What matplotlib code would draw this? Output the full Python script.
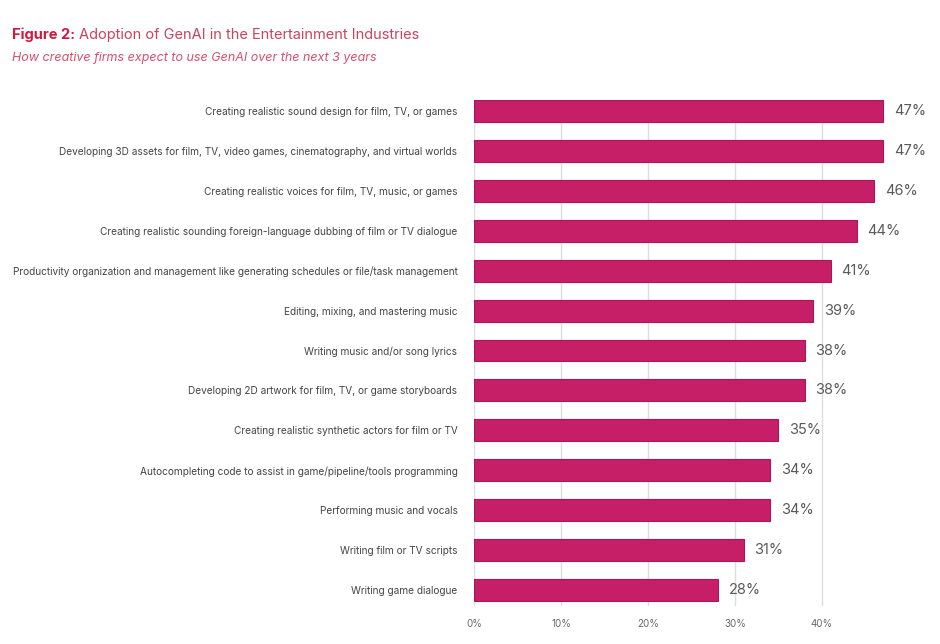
import numpy as np
import matplotlib
matplotlib.use("Agg")
import matplotlib.pyplot as plt

#========= Data ===========
categories = [
    "Creating realistic sound design for film, TV, or games",
    "Developing 3D assets for film, TV, video games, cinematography, and virtual worlds",
    "Creating realistic voices for film, TV, music, or games",
    "Creating realistic sounding foreign-language dubbing of film or TV dialogue",
    "Productivity organization and management like generating schedules or file/task management",
    "Editing, mixing, and mastering music",
    "Writing music and/or song lyrics",
    "Developing 2D artwork for film, TV, or game storyboards",
    "Creating realistic synthetic actors for film or TV",
    "Autocompleting code to assist in game/pipeline/tools programming",
    "Performing music and vocals",
    "Writing film or TV scripts",
    "Writing game dialogue",
]
values = [47, 47, 46, 44, 41, 39, 38, 38, 35, 34, 34, 31, 28]
xticks = [0, 10, 20, 30, 40]
xtick_labels = ["0%", "10%", "20%", "30%", "40%"]

#========= Style ===========
plt.rcParams['font.family'] = ['Inter', 'DejaVu Sans']
bar_color = "#C71E68"
edge_color = "#A8175A"
text_grey = "#444444"
value_grey = "#5a5a5a"

fig = plt.figure(figsize=(9.4, 6.44), dpi=100)
ax = fig.add_axes([0.5043, 0.059, 0.483, 0.786])

ypos = np.arange(len(categories))
ax.barh(ypos, values, height=0.55, color=bar_color, edgecolor=edge_color,
        linewidth=0.8, zorder=3)

for y, v in zip(ypos, values):
    ax.text(v + 1.25, y, "%d%%" % v, va="center", ha="left",
            fontsize=10.5, color=value_grey)

ax.set_yticks(ypos)
ax.set_yticklabels(categories, fontsize=7.25, color=text_grey)
ax.tick_params(axis="y", length=0, pad=12)
ax.set_xticks(xticks)
ax.set_xticklabels(xtick_labels, fontsize=7, color="#666666")
ax.tick_params(axis="x", length=0, pad=9)

ax.set_xlim(0, 52.2)
ax.set_ylim(12.4, -0.28)
ax.grid(axis="x", color="#dddddd", linewidth=1.0, zorder=0)
for s in ax.spines.values():
    s.set_visible(False)
ax.axvline(0, color="#cccccc", linewidth=1.2, zorder=1)

#========= Titles ===========
t1 = fig.text(0.013, 0.94, "Figure 2:", fontsize=10.5, fontweight="bold",
              color="#D2173F", ha="left", va="baseline")
r = fig.canvas.get_renderer()
bb = t1.get_window_extent(renderer=r)
x2 = (bb.x1 + 4) / fig.bbox.width
fig.text(x2, 0.94, "Adoption of GenAI in the Entertainment Industries",
         fontsize=10.5, color="#C9445E", ha="left", va="baseline")
fig.text(0.013, 0.905, "How creative firms expect to use GenAI over the next 3 years",
         fontsize=9.0, style="italic", color="#D4506C", ha="left", va="baseline")

fig.savefig("out.png", dpi=100, facecolor="white")
